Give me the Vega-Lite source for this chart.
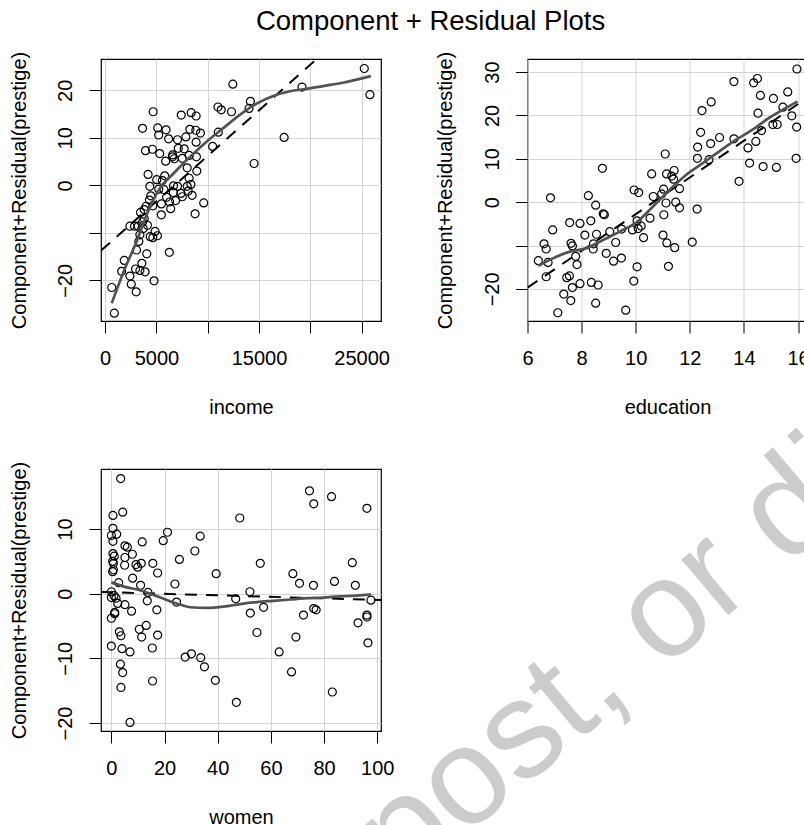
{
  "$schema": "https://vega.github.io/schema/vega-lite/v6.json",
  "padding": {"left": 8, "top": 8, "right": 0, "bottom": 0},
  "title": {"text": "Component + Residual Plots", "fontSize": 27.5, "fontWeight": "normal", "font": "Liberation Sans", "color": "black", "anchor": "middle", "frame": "bounds", "baseline": "alphabetic", "offset": -7, "dx": -43.3},
  "datasets": {
    "inc_pts": [
      {"income": 25260, "residual": 24.6}, {"income": 25810, "residual": 19.1}, {"income": 12450, "residual": 21.3}, {"income": 19190, "residual": 20.7},
      {"income": 14160, "residual": 17.7}, {"income": 14030, "residual": 16.2}, {"income": 11000, "residual": 16.5}, {"income": 11320, "residual": 15.9},
      {"income": 12320, "residual": 15.5}, {"income": 4680, "residual": 15.5}, {"income": 7420, "residual": 14.8}, {"income": 8390, "residual": 15.3},
      {"income": 8870, "residual": 14.6}, {"income": 3650, "residual": 12.0}, {"income": 5130, "residual": 12.1}, {"income": 5940, "residual": 11.7},
      {"income": 5220, "residual": 10.6}, {"income": 6190, "residual": 9.8}, {"income": 7060, "residual": 9.6}, {"income": 7870, "residual": 10.2},
      {"income": 8260, "residual": 11.8}, {"income": 8840, "residual": 11.6}, {"income": 9290, "residual": 11.0}, {"income": 8870, "residual": 9.1},
      {"income": 11030, "residual": 11.2}, {"income": 10480, "residual": 8.2}, {"income": 17450, "residual": 10.1}, {"income": 14520, "residual": 4.6},
      {"income": 3940, "residual": 7.3}, {"income": 4610, "residual": 7.6}, {"income": 5320, "residual": 6.7}, {"income": 5900, "residual": 5.1},
      {"income": 6580, "residual": 6.0}, {"income": 6740, "residual": 5.6}, {"income": 7130, "residual": 7.8}, {"income": 7710, "residual": 7.7},
      {"income": 8190, "residual": 6.3}, {"income": 8900, "residual": 6.0}, {"income": 7520, "residual": 5.7}, {"income": 8000, "residual": 3.7},
      {"income": 8940, "residual": 3.0}, {"income": 8190, "residual": 1.5}, {"income": 8360, "residual": 0.2}, {"income": 4190, "residual": 2.3},
      {"income": 5030, "residual": 1.2}, {"income": 5580, "residual": 1.0}, {"income": 5810, "residual": 2.0}, {"income": 4360, "residual": -0.2},
      {"income": 5230, "residual": -0.8}, {"income": 4450, "residual": -2.2}, {"income": 4320, "residual": -3.1}, {"income": 5480, "residual": -3.9},
      {"income": 5480, "residual": -6.2}, {"income": 6290, "residual": -3.5}, {"income": 6870, "residual": -3.2}, {"income": 6390, "residual": -4.9},
      {"income": 6650, "residual": -1.5}, {"income": 7390, "residual": -1.7}, {"income": 8100, "residual": -1.2}, {"income": 8480, "residual": -2.1},
      {"income": 9610, "residual": -3.7}, {"income": 8770, "residual": -6.0}, {"income": 3450, "residual": -5.7}, {"income": 3810, "residual": -7.0},
      {"income": 2870, "residual": -8.6}, {"income": 2420, "residual": -8.6}, {"income": 3650, "residual": -7.7}, {"income": 4130, "residual": -8.4},
      {"income": 3390, "residual": -10.4}, {"income": 4390, "residual": -10.8}, {"income": 4870, "residual": -9.7}, {"income": 5100, "residual": -10.6},
      {"income": 4650, "residual": -11.0}, {"income": 3290, "residual": -11.8}, {"income": 3060, "residual": -13.6}, {"income": 4060, "residual": -14.4},
      {"income": 6260, "residual": -14.1}, {"income": 1870, "residual": -15.8}, {"income": 3580, "residual": -16.4}, {"income": 2970, "residual": -17.6},
      {"income": 3390, "residual": -17.9}, {"income": 3900, "residual": -18.2}, {"income": 1610, "residual": -18.1}, {"income": 2420, "residual": -19.1},
      {"income": 4770, "residual": -20.1}, {"income": 2550, "residual": -20.8}, {"income": 650, "residual": -21.5}, {"income": 3030, "residual": -22.4},
      {"income": 900, "residual": -26.9}, {"income": 6580, "residual": 6.4}, {"income": 5990, "residual": -2.5}, {"income": 4000, "residual": -4.4},
      {"income": 4650, "residual": -4.3}, {"income": 3230, "residual": -8.6}, {"income": 3710, "residual": -9.1}, {"income": 5740, "residual": -0.9},
      {"income": 8000, "residual": -0.2}, {"income": 7060, "residual": -0.2}, {"income": 7520, "residual": -2.4}, {"income": 6670, "residual": -0.1},
      {"income": 3810, "residual": -5.1}
    ],
    "inc_lm": [{"income": -400, "residual": -13.73}, {"income": 26890, "residual": 38.6}],
    "inc_lo": [
      {"income": 650, "residual": -24.8}, {"income": 1870, "residual": -17.8}, {"income": 3000, "residual": -12.2}, {"income": 4130, "residual": -5.8},
      {"income": 5260, "residual": -0.9}, {"income": 6710, "residual": 2.6}, {"income": 8320, "residual": 6.1}, {"income": 9940, "residual": 9.3},
      {"income": 11550, "residual": 12.1}, {"income": 13160, "residual": 14.9}, {"income": 14770, "residual": 17.2}, {"income": 16390, "residual": 18.8},
      {"income": 18000, "residual": 19.8}, {"income": 19610, "residual": 20.3}, {"income": 21230, "residual": 20.9}, {"income": 23160, "residual": 21.6},
      {"income": 25900, "residual": 23.0}
    ],
    "edu_pts": [
      {"education": 15.96, "residual": 30.7}, {"education": 13.63, "residual": 27.8}, {"education": 14.36, "residual": 27.5}, {"education": 14.50, "residual": 28.5},
      {"education": 14.61, "residual": 24.6}, {"education": 15.09, "residual": 23.9}, {"education": 15.62, "residual": 25.4}, {"education": 15.44, "residual": 21.9},
      {"education": 15.77, "residual": 19.9}, {"education": 15.95, "residual": 17.3}, {"education": 15.93, "residual": 10.1}, {"education": 15.20, "residual": 8.0},
      {"education": 14.71, "residual": 8.2}, {"education": 14.21, "residual": 9.0}, {"education": 14.52, "residual": 20.5}, {"education": 14.65, "residual": 16.5},
      {"education": 15.07, "residual": 17.9}, {"education": 15.23, "residual": 17.9}, {"education": 14.44, "residual": 14.0}, {"education": 14.15, "residual": 12.5},
      {"education": 13.82, "residual": 4.8}, {"education": 13.63, "residual": 14.6}, {"education": 13.10, "residual": 14.9}, {"education": 12.79, "residual": 23.1},
      {"education": 12.45, "residual": 21.1}, {"education": 12.40, "residual": 16.1}, {"education": 12.29, "residual": 12.7}, {"education": 12.28, "residual": 10.1},
      {"education": 12.77, "residual": 13.5}, {"education": 12.71, "residual": 9.8}, {"education": 12.27, "residual": -1.6}, {"education": 12.09, "residual": -9.2},
      {"education": 11.09, "residual": 11.1}, {"education": 11.42, "residual": 7.3}, {"education": 11.14, "residual": 6.5}, {"education": 11.33, "residual": 6.0},
      {"education": 11.40, "residual": 5.3}, {"education": 11.62, "residual": 3.1}, {"education": 11.03, "residual": 3.0}, {"education": 10.96, "residual": 1.9},
      {"education": 10.65, "residual": 1.3}, {"education": 10.59, "residual": 6.5}, {"education": 11.48, "residual": 0.0}, {"education": 11.62, "residual": -1.3},
      {"education": 11.12, "residual": -0.2}, {"education": 11.04, "residual": -2.9}, {"education": 10.53, "residual": -3.7}, {"education": 11.01, "residual": -7.6},
      {"education": 11.15, "residual": -9.4}, {"education": 11.44, "residual": -10.5}, {"education": 11.21, "residual": -14.8}, {"education": 9.94, "residual": 2.8},
      {"education": 10.11, "residual": 2.2}, {"education": 10.05, "residual": -4.3}, {"education": 9.88, "residual": -6.4}, {"education": 10.09, "residual": -6.1},
      {"education": 10.29, "residual": -8.2}, {"education": 9.48, "residual": -6.2}, {"education": 9.26, "residual": -9.3}, {"education": 9.47, "residual": -12.9},
      {"education": 9.18, "residual": -13.6}, {"education": 8.91, "residual": -11.8}, {"education": 8.77, "residual": 7.8}, {"education": 8.25, "residual": 1.5},
      {"education": 8.52, "residual": -0.7}, {"education": 8.80, "residual": -2.7}, {"education": 8.84, "residual": -2.9}, {"education": 8.34, "residual": -4.3},
      {"education": 7.94, "residual": -4.9}, {"education": 7.56, "residual": -4.7}, {"education": 6.93, "residual": -6.4}, {"education": 6.85, "residual": 1.0},
      {"education": 8.12, "residual": -7.6}, {"education": 8.55, "residual": -7.4}, {"education": 8.44, "residual": -9.6}, {"education": 8.43, "residual": -10.8},
      {"education": 7.61, "residual": -9.5}, {"education": 7.66, "residual": -10.1}, {"education": 6.61, "residual": -9.6}, {"education": 6.69, "residual": -10.8},
      {"education": 6.40, "residual": -13.5}, {"education": 6.76, "residual": -13.9}, {"education": 7.78, "residual": -12.5}, {"education": 7.83, "residual": -14.4},
      {"education": 6.69, "residual": -17.2}, {"education": 7.45, "residual": -17.4}, {"education": 7.55, "residual": -17.0}, {"education": 7.66, "residual": -19.7},
      {"education": 7.94, "residual": -18.8}, {"education": 8.36, "residual": -18.5}, {"education": 8.61, "residual": -19.1}, {"education": 7.34, "residual": -21.2},
      {"education": 7.60, "residual": -22.7}, {"education": 7.12, "residual": -25.5}, {"education": 8.52, "residual": -23.3}, {"education": 9.93, "residual": -18.2},
      {"education": 10.05, "residual": -14.9}, {"education": 9.63, "residual": -24.9}, {"education": 9.04, "residual": -6.8}, {"education": 10.20, "residual": -5.5}
    ],
    "edu_lm": [{"education": 6.0, "residual": -19.7}, {"education": 16.35, "residual": 24.1}],
    "edu_lo": [
      {"education": 6.40, "residual": -14.7}, {"education": 6.96, "residual": -12.9}, {"education": 7.57, "residual": -11.4}, {"education": 8.18, "residual": -10.6},
      {"education": 8.80, "residual": -8.7}, {"education": 9.41, "residual": -6.8}, {"education": 10.02, "residual": -4.7}, {"education": 10.64, "residual": -1.0},
      {"education": 11.25, "residual": 2.8}, {"education": 11.87, "residual": 6.3}, {"education": 12.48, "residual": 9.0}, {"education": 13.09, "residual": 11.7},
      {"education": 13.71, "residual": 14.4}, {"education": 14.32, "residual": 16.7}, {"education": 14.93, "residual": 19.4}, {"education": 15.55, "residual": 21.7},
      {"education": 15.98, "residual": 23.2}
    ],
    "wom_pts": [
      {"women": 3.5, "residual": 17.8}, {"women": 0.6, "residual": 12.1}, {"women": 4.25, "residual": 12.6}, {"women": 0.6, "residual": 10.1},
      {"women": 0.0, "residual": 9.0}, {"women": 2.0, "residual": 9.2}, {"women": 0.6, "residual": 8.1}, {"women": 5.1, "residual": 7.4},
      {"women": 6.0, "residual": 7.2}, {"women": 11.6, "residual": 8.0}, {"women": 19.5, "residual": 8.2}, {"women": 21.1, "residual": 9.5},
      {"women": 33.4, "residual": 8.9}, {"women": 31.4, "residual": 6.6}, {"women": 25.6, "residual": 5.3}, {"women": 48.3, "residual": 11.7},
      {"women": 74.5, "residual": 15.9}, {"women": 76.1, "residual": 13.9}, {"women": 82.8, "residual": 15.0}, {"women": 96.1, "residual": 13.2},
      {"women": 0.6, "residual": 6.2}, {"women": 1.1, "residual": 5.8}, {"women": 5.1, "residual": 5.6}, {"women": 7.9, "residual": 6.1},
      {"women": 0.75, "residual": 4.7}, {"women": 0.75, "residual": 3.7}, {"women": 5.0, "residual": 4.4}, {"women": 9.25, "residual": 4.5},
      {"women": 9.9, "residual": 4.1}, {"women": 11.25, "residual": 4.7}, {"women": 15.6, "residual": 4.7}, {"women": 17.4, "residual": 3.2},
      {"women": 8.0, "residual": 2.4}, {"women": 11.0, "residual": 1.3}, {"women": 23.9, "residual": 1.5}, {"women": 39.4, "residual": 3.1},
      {"women": 56.0, "residual": 4.7}, {"women": 68.25, "residual": 3.1}, {"women": 70.75, "residual": 1.6}, {"women": 76.0, "residual": 1.3},
      {"women": 83.9, "residual": 1.9}, {"women": 90.6, "residual": 4.8}, {"women": 91.75, "residual": 1.3}, {"women": 0.5, "residual": 3.4},
      {"women": 2.75, "residual": 1.7}, {"women": 0.0, "residual": 0.3}, {"women": 1.0, "residual": -0.3}, {"women": 1.75, "residual": -0.7},
      {"women": 0.0, "residual": -0.6}, {"women": 2.4, "residual": -1.5}, {"women": 5.1, "residual": -1.7}, {"women": 7.6, "residual": -2.7},
      {"women": 13.75, "residual": 0.2}, {"women": 13.5, "residual": -1.1}, {"women": 17.1, "residual": -2.5}, {"women": 24.5, "residual": -1.3},
      {"women": 46.75, "residual": -0.8}, {"women": 52.1, "residual": 0.3}, {"women": 52.25, "residual": -3.0}, {"women": 57.25, "residual": -2.1},
      {"women": 72.25, "residual": -3.3}, {"women": 76.1, "residual": -2.3}, {"women": 77.0, "residual": -2.5}, {"women": 97.6, "residual": -1.0},
      {"women": 96.1, "residual": -3.3}, {"women": 96.1, "residual": -3.6}, {"women": 92.75, "residual": -4.5}, {"women": 96.5, "residual": -7.6},
      {"women": 1.25, "residual": -2.9}, {"women": 0.0, "residual": -3.8}, {"women": 3.0, "residual": -5.9}, {"women": 3.6, "residual": -6.5},
      {"women": 10.5, "residual": -5.5}, {"women": 13.1, "residual": -4.9}, {"women": 11.4, "residual": -6.7}, {"women": 17.4, "residual": -6.4},
      {"women": 0.0, "residual": -8.1}, {"women": 4.0, "residual": -8.5}, {"women": 7.0, "residual": -9.0}, {"women": 15.4, "residual": -8.4},
      {"women": 54.75, "residual": -6.0}, {"women": 69.4, "residual": -6.7}, {"women": 63.1, "residual": -9.0}, {"women": 27.75, "residual": -9.8},
      {"women": 30.1, "residual": -9.3}, {"women": 33.6, "residual": -9.9}, {"women": 35.0, "residual": -11.3}, {"women": 39.1, "residual": -13.4},
      {"women": 3.4, "residual": -10.9}, {"women": 4.25, "residual": -12.2}, {"women": 3.6, "residual": -14.5}, {"women": 15.5, "residual": -13.5},
      {"women": 67.75, "residual": -12.1}, {"women": 83.1, "residual": -15.2}, {"women": 47.0, "residual": -16.8}, {"women": 7.0, "residual": -19.9},
      {"women": 1.25, "residual": -3.1}, {"women": 0.5, "residual": 5.0}
    ],
    "wom_lm": [{"women": -3.9, "residual": 0.26}, {"women": 101.4, "residual": -0.97}],
    "wom_lo": [
      {"women": 0, "residual": 1.75}, {"women": 4.75, "residual": 1.1}, {"women": 11, "residual": 0.5}, {"women": 17.25, "residual": -0.4},
      {"women": 22.25, "residual": -1.2}, {"women": 26, "residual": -1.7}, {"women": 29.75, "residual": -2.1}, {"women": 36, "residual": -2.2},
      {"women": 42.25, "residual": -2.0}, {"women": 48.5, "residual": -1.6}, {"women": 54.75, "residual": -1.3}, {"women": 61, "residual": -1.1},
      {"women": 67.25, "residual": -0.9}, {"women": 73.5, "residual": -0.7}, {"women": 79.75, "residual": -0.6}, {"women": 86, "residual": -0.4},
      {"women": 92.25, "residual": -0.3}, {"women": 97.6, "residual": -0.1}
    ],
    "watermark": [{"women": 109.9, "residual": -45.46, "label": "post, or dis"}]
  },
  "columns": 2,
  "spacing": {"row": 148, "column": 146.5},
  "bounds": "flush",
  "concat": [
    {
      "width": 280, "height": 262,
      "layer": [
        {
          "data": {"name": "inc_pts"},
          "mark": {"type": "point", "shape": "circle", "filled": false, "color": "black", "size": 64, "strokeWidth": 1.2, "opacity": 1},
          "encoding": {
            "x": {"field": "income", "type": "quantitative", "scale": {"domain": [-400, 26890], "nice": false, "zero": false},
                  "axis": {"title": "income", "values": [0, 5000, 10000, 15000, 20000, 25000], "format": "d", "labelExpr": "datum.value == 10000 || datum.value == 20000 ? '' : datum.label"}},
            "y": {"field": "residual", "type": "quantitative", "scale": {"domain": [-28.55, 26.6], "nice": false, "zero": false},
                  "axis": {"title": "Component+Residual(prestige)", "values": [-20, -10, 0, 10, 20], "format": "d", "labelExpr": "datum.value == -10 ? '' : datum.label"}}
          }
        },
        {
          "data": {"name": "inc_lm"},
          "mark": {"type": "line", "color": "black", "strokeDash": [12, 9], "strokeWidth": 2, "clip": true},
          "encoding": {"x": {"field": "income", "type": "quantitative"}, "y": {"field": "residual", "type": "quantitative"}}
        },
        {
          "data": {"name": "inc_lo"},
          "mark": {"type": "line", "color": "#525252", "strokeWidth": 2.7, "interpolate": "monotone", "clip": true},
          "encoding": {"x": {"field": "income", "type": "quantitative"}, "y": {"field": "residual", "type": "quantitative"}}
        }
      ]
    },
    {
      "width": 280, "height": 262,
      "layer": [
        {
          "data": {"name": "edu_pts"},
          "mark": {"type": "point", "shape": "circle", "filled": false, "color": "black", "size": 64, "strokeWidth": 1.2, "opacity": 1},
          "encoding": {
            "x": {"field": "education", "type": "quantitative", "scale": {"domain": [6.0, 16.35], "nice": false, "zero": false},
                  "axis": {"title": "education", "values": [6, 8, 10, 12, 14, 16], "format": "d"}},
            "y": {"field": "residual", "type": "quantitative", "scale": {"domain": [-27.4, 33.0], "nice": false, "zero": false},
                  "axis": {"title": "Component+Residual(prestige)", "values": [-20, -10, 0, 10, 20, 30], "format": "d", "labelExpr": "datum.value == -10 ? '' : datum.label"}}
          }
        },
        {
          "data": {"name": "edu_lm"},
          "mark": {"type": "line", "color": "black", "strokeDash": [12, 9], "strokeWidth": 2, "clip": true},
          "encoding": {"x": {"field": "education", "type": "quantitative"}, "y": {"field": "residual", "type": "quantitative"}}
        },
        {
          "data": {"name": "edu_lo"},
          "mark": {"type": "line", "color": "#525252", "strokeWidth": 2.7, "interpolate": "monotone", "clip": true},
          "encoding": {"x": {"field": "education", "type": "quantitative"}, "y": {"field": "residual", "type": "quantitative"}}
        }
      ]
    },
    {
      "width": 280, "height": 262,
      "layer": [
        {
          "data": {"name": "wom_pts"},
          "mark": {"type": "point", "shape": "circle", "filled": false, "color": "black", "size": 64, "strokeWidth": 1.2, "opacity": 1},
          "encoding": {
            "x": {"field": "women", "type": "quantitative", "scale": {"domain": [-3.9, 101.4], "nice": false, "zero": false},
                  "axis": {"title": "women", "values": [0, 20, 40, 60, 80, 100], "format": "d"}},
            "y": {"field": "residual", "type": "quantitative", "scale": {"domain": [-21.23, 19.28], "nice": false, "zero": false},
                  "axis": {"title": "Component+Residual(prestige)", "values": [-20, -10, 0, 10], "format": "d"}}
          }
        },
        {
          "data": {"name": "wom_lm"},
          "mark": {"type": "line", "color": "black", "strokeDash": [12, 9], "strokeWidth": 2, "clip": true},
          "encoding": {"x": {"field": "women", "type": "quantitative"}, "y": {"field": "residual", "type": "quantitative"}}
        },
        {
          "data": {"name": "wom_lo"},
          "mark": {"type": "line", "color": "#525252", "strokeWidth": 2.7, "interpolate": "monotone", "clip": true},
          "encoding": {"x": {"field": "women", "type": "quantitative"}, "y": {"field": "residual", "type": "quantitative"}}
        },
        {
          "data": {"name": "watermark"},
          "mark": {"type": "text", "align": "left", "baseline": "alphabetic", "angle": -40, "fontSize": 138, "font": "Liberation Sans", "color": "#cccccc", "clip": false},
          "encoding": {"x": {"field": "women", "type": "quantitative"}, "y": {"field": "residual", "type": "quantitative"}, "text": {"field": "label"}}
        }
      ]
    }
  ],
  "config": {
    "font": "Liberation Sans",
    "background": "white",
    "view": {"stroke": "black", "strokeWidth": 1.2},
    "axis": {
      "domain": false, "grid": true, "gridColor": "#d3d3d3", "gridWidth": 1,
      "ticks": true, "tickColor": "black", "tickSize": 12, "tickWidth": 1,
      "labelFont": "Liberation Sans", "labelFontSize": 20, "labelColor": "black",
      "titleFont": "Liberation Sans", "titleFontSize": 20, "titleFontWeight": "normal", "titleColor": "black",
      "labelFlush": false, "labelOverlap": false, "labelBound": false
    },
    "axisX": {"labelAngle": 0, "labelAlign": "center", "labelBaseline": "alphabetic", "labelPadding": 31.3, "titleY": 92.6, "titleBaseline": "alphabetic"},
    "axisY": {"labelAngle": -90, "labelAlign": "center", "labelBaseline": "alphabetic", "labelPadding": 17.5, "titleX": -75.9, "titleBaseline": "alphabetic", "titleAngle": -90}
  }
}
